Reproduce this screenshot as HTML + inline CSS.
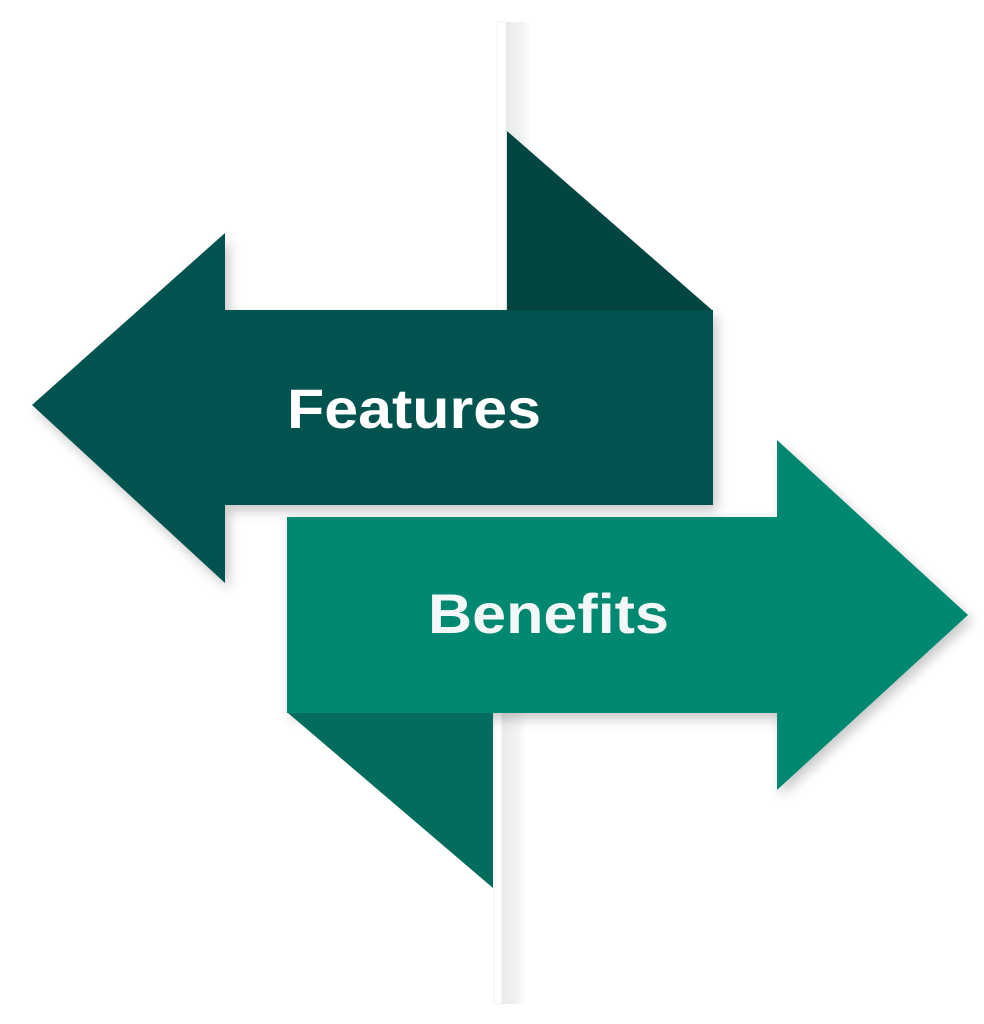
<!DOCTYPE html>
<html><head><style>html,body{margin:0;padding:0;background:#fff;}svg{display:block}</style></head>
<body>
<svg width="984" height="1024" viewBox="0 0 984 1024" xmlns="http://www.w3.org/2000/svg">
<defs>
<filter id="sh" x="-10%" y="-10%" width="130%" height="130%"><feGaussianBlur in="SourceAlpha" stdDeviation="6"/><feOffset dx="4" dy="6"/><feComponentTransfer><feFuncA type="linear" slope="0.22"/></feComponentTransfer><feMerge><feMergeNode/><feMergeNode in="SourceGraphic"/></feMerge></filter>
<linearGradient id="g" x1="0" x2="1" y1="0" y2="0"><stop offset="0" stop-color="#e9ebeb"/><stop offset="0.6" stop-color="#f1f2f2"/><stop offset="1" stop-color="#fff"/></linearGradient>
</defs>
<rect x="506" y="22" width="26" height="290" fill="url(#g)"/>
<rect x="497" y="22" width="9" height="290" fill="#fff" stroke="#e4e6e6" stroke-width="0.6"/>
<rect x="502" y="712" width="24" height="292" fill="url(#g)"/>
<rect x="494" y="712" width="8" height="292" fill="#fff" stroke="#e4e6e6" stroke-width="0.6"/>
<polygon points="507,131 507,310 712,310" fill="#034540"/>
<polygon points="32,405 225,233 225,310 713,310 713,505 225,505 225,583" fill="#03524f" filter="url(#sh)"/>
<polygon points="287,517 777,517 777,440 968,615 777,790 777,713 287,713" fill="#038870" filter="url(#sh)"/>
<polygon points="288,713 493,713 493,888" fill="#036d5d"/>
<text x="287" y="428" font-family="Liberation Sans, sans-serif" font-weight="bold" font-size="56" fill="#fff" textLength="254" lengthAdjust="spacingAndGlyphs">Features</text>
<text x="428" y="633" font-family="Liberation Sans, sans-serif" font-weight="bold" font-size="56" fill="#f3f7f7" textLength="241" lengthAdjust="spacingAndGlyphs">Benefits</text>
</svg>
</body></html>
